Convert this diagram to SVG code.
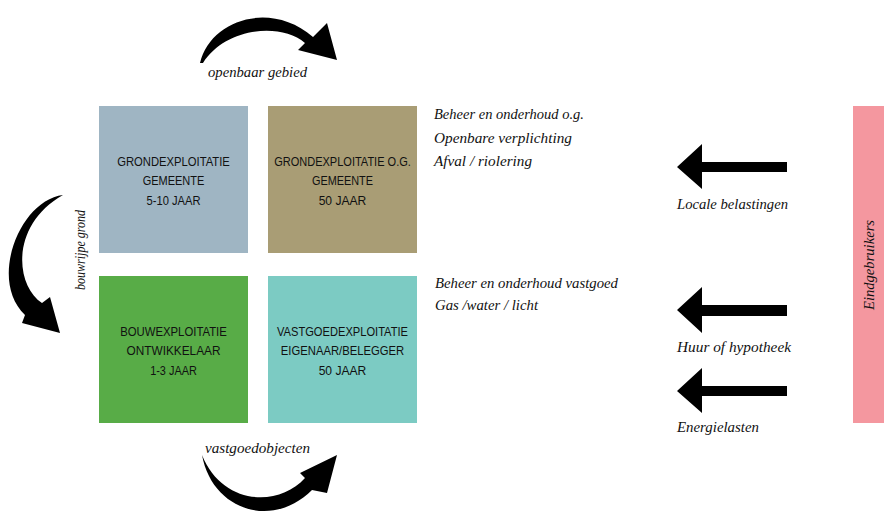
<svg xmlns="http://www.w3.org/2000/svg" width="885" height="517" viewBox="0 0 885 517">
<style>
.box-label{font-family:"Liberation Sans",Arial,sans-serif;font-size:13px;fill:#111;text-anchor:middle}
.it{font-family:"Liberation Serif","Times New Roman",serif;font-style:italic;font-size:14px;fill:#111}
.arrow{fill:#000}
</style>
<rect width="885" height="517" fill="#fff"/>

<g id="grondexploitatie-gemeente">
<rect x="99" y="106" width="149" height="147" fill="#9fb5c3"/>
<text class="box-label" x="173.5" y="165.5" textLength="112.7" lengthAdjust="spacingAndGlyphs">GRONDEXPLOITATIE</text>
<text class="box-label" x="173.5" y="185" textLength="61.7" lengthAdjust="spacingAndGlyphs">GEMEENTE</text>
<text class="box-label" x="173.5" y="204.5" textLength="54" lengthAdjust="spacingAndGlyphs">5-10 JAAR</text>
</g>

<g id="grondexploitatie-og">
<rect x="268" y="106" width="149" height="147" fill="#a99d75"/>
<text class="box-label" x="342.5" y="165.5" textLength="136.7" lengthAdjust="spacingAndGlyphs">GRONDEXPLOITATIE O.G.</text>
<text class="box-label" x="342.5" y="185" textLength="61" lengthAdjust="spacingAndGlyphs">GEMEENTE</text>
<text class="box-label" x="342.5" y="204.5" textLength="47.7" lengthAdjust="spacingAndGlyphs">50 JAAR</text>
</g>

<g id="bouwexploitatie">
<rect x="99" y="276" width="149" height="147" fill="#58ac47"/>
<text class="box-label" x="173.5" y="335.5" textLength="106.7" lengthAdjust="spacingAndGlyphs">BOUWEXPLOITATIE</text>
<text class="box-label" x="173.5" y="355" textLength="94" lengthAdjust="spacingAndGlyphs">ONTWIKKELAAR</text>
<text class="box-label" x="173.5" y="374.5" textLength="46.7" lengthAdjust="spacingAndGlyphs">1-3 JAAR</text>
</g>

<g id="vastgoedexploitatie">
<rect x="268" y="276" width="149" height="147" fill="#7ccbc3"/>
<text class="box-label" x="342.5" y="335.5" textLength="131" lengthAdjust="spacingAndGlyphs">VASTGOEDEXPLOITATIE</text>
<text class="box-label" x="342.5" y="355" textLength="123.3" lengthAdjust="spacingAndGlyphs">EIGENAAR/BELEGGER</text>
<text class="box-label" x="342.5" y="374.5" textLength="47.7" lengthAdjust="spacingAndGlyphs">50 JAAR</text>
</g>

<g id="notes-og">
<text class="it" x="434" y="119" textLength="150" lengthAdjust="spacingAndGlyphs">Beheer en onderhoud o.g.</text>
<text class="it" x="434" y="142.7" textLength="138" lengthAdjust="spacingAndGlyphs">Openbare verplichting</text>
<text class="it" x="434" y="166" textLength="98" lengthAdjust="spacingAndGlyphs">Afval / riolering</text>
</g>

<g id="notes-vastgoed">
<text class="it" x="435" y="287.7" textLength="183" lengthAdjust="spacingAndGlyphs">Beheer en onderhoud vastgoed</text>
<text class="it" x="435" y="310" textLength="103" lengthAdjust="spacingAndGlyphs">Gas /water / licht</text>
</g>

<g id="eindgebruikers">
<rect x="853" y="106" width="31" height="317" fill="#f4979f"/>
<text class="it" transform="translate(874,265) rotate(-90)" x="0" y="0" text-anchor="middle" textLength="90" lengthAdjust="spacingAndGlyphs">Eindgebruikers</text>
</g>

<g id="connectors">
<path class="arrow" d="M200,63 C210,20 270,0 313,37 L327,23 L337,60 L298,50 L305,43 C280,22 225,28 203,63 Z"/>
<text class="it" x="208" y="77" textLength="99" lengthAdjust="spacingAndGlyphs">openbaar gebied</text>

<path class="arrow" d="M63,195 C20,200 -12,280 25,315 L22,323 L60,333 L50,297 L42,303 C15,285 10,225 63,195 Z"/>
<text class="it" transform="translate(85,250) rotate(-90)" x="0" y="0" text-anchor="middle" style="font-size:15px" textLength="80" lengthAdjust="spacingAndGlyphs">bouwrijpe grond</text>

<path class="arrow" d="M202,455 C212,510 272,530 312,490 L327,493 L337,455 L300,473 L305,478 C278,508 222,505 202,455 Z"/>
<text class="it" x="205" y="453" textLength="105" lengthAdjust="spacingAndGlyphs">vastgoedobjecten</text>

<polygon class="arrow" points="677,167 702,144 702,162 787,162 787,172 702,172 702,189"/>
<text class="it" x="677" y="209" textLength="111" lengthAdjust="spacingAndGlyphs">Locale belastingen</text>

<polygon class="arrow" points="677,310 702,287 702,305 787,305 787,316 702,316 702,333"/>
<text class="it" x="677" y="352" textLength="114" lengthAdjust="spacingAndGlyphs">Huur of hypotheek</text>

<polygon class="arrow" points="677,391 702,368 702,386 787,386 787,396 702,396 702,413"/>
<text class="it" x="677" y="432" textLength="82" lengthAdjust="spacingAndGlyphs">Energielasten</text>
</g>
</svg>
